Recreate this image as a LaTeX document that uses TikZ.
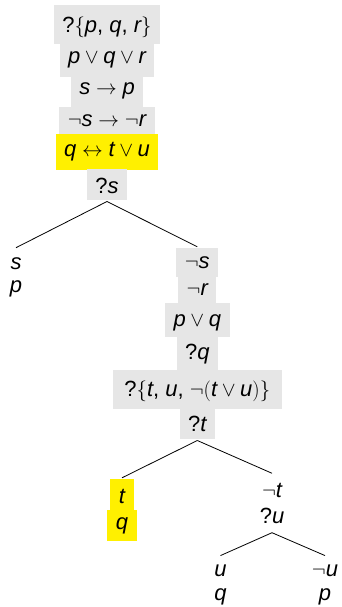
\documentclass[tikz,border=0pt]{standalone}
\usepackage{fontspec}
\setmainfont{Liberation Sans}
\definecolor{boxgray}{RGB}{230,230,230}
\definecolor{hilite}{RGB}{255,240,0}
% propositional letters in sans italic, question mark upright
\newcommand\iv[1]{\textit{#1}}
\newcommand\qm{\textup{?}}
\newcommand\sep{\mbox{, }}
\begin{document}
\begin{tikzpicture}[x=1pt,y=-1pt,
  formula/.style={inner xsep=8.5pt,inner ysep=8.5pt,outer sep=1pt,anchor=base,
    font=\fontsize{22}{26}\selectfont},
  % shaded boxes: extent above and below the baseline given explicitly
  % (a box with another one stacked below it reaches 1pt under that one)
  vspan/.style 2 args={inner ysep=0pt,outer sep=1.5pt,text height=#1pt,text depth=#2pt},
  gbox/.style 2 args={formula,fill=boxgray,vspan={#1}{#2}},
  ybox/.style 2 args={formula,fill=hilite,vspan={#1}{#2}},
  leaf/.style={formula},
  branch/.style={line width=0.8pt,black}]
\useasboundingbox (0,0) rectangle (342,607);

% premises and the initial question
\node[gbox={27.5}{11.5}] (t1) at (107,32.5) {$\qm\{\iv{p}\sep\iv{q}\sep\iv{r}\}$};
\node[gbox={20.3}{13.7}] (t2) at (107,63.3) {$\iv{p}\vee\iv{q}\vee\iv{r}$};
\node[gbox={19}{13}] (t3) at (107,95) {$\iv{s}\to\iv{p}$};
\node[gbox={19}{9}] (t4) at (107,126) {$\neg\iv{s}\to\neg\iv{r}$};
\node[ybox={22.7}{13.3}] (t5) at (107,156.7) {$\iv{q}\leftrightarrow\iv{t}\vee\iv{u}$};
\node[gbox={24}{7}] (t6) at (107,193) {$\qm\iv{s}$};

% branch s
\node[leaf] (l1) at (16,269) {$\iv{s}$};
\node[leaf] (l2) at (16,292) {$\iv{p}$};

% branch not s
\node[gbox={20}{8.4}] (r1) at (197.3,268.3) {$\neg\iv{s}$};
\node[gbox={19.3}{9.3}] (r2) at (197.3,295) {$\neg\iv{r}$};
\node[gbox={22.7}{10.7}] (r3) at (197.3,326) {$\iv{p}\vee\iv{q}$};
\node[gbox={23.6}{11.7}] (r4) at (197.3,359.3) {$\qm\iv{q}$};
\node[gbox={26.7}{12},minimum width=169pt] (r5) at (197.3,396.7) {$\qm\{\iv{t}\sep\iv{u}\sep\neg(\iv{t}\vee\iv{u})\}$};
\node[gbox={24}{7.3}] (r6) at (197.3,431.7) {$\qm\iv{t}$};

% branch t
\node[ybox={24}{7.7}] (a1) at (122,503.3) {$\iv{t}$};
\node[ybox={19.3}{11.7}] (a2) at (122,529.3) {$\iv{q}$};

% branch not t
\node[leaf] (b1) at (272,497) {$\neg\iv{t}$};
\node[leaf] (b2) at (272,523) {$\qm\iv{u}$};

% branches u and not u
\node[leaf] (c1) at (220.5,576.7) {$\iv{u}$};
\node[leaf] (c2) at (220.5,600) {$\iv{q}$};
\node[leaf] (d1) at (325,576.7) {$\neg\iv{u}$};
\node[leaf] (d2) at (325,600) {$\iv{p}$};

% splits
\draw[branch] (t6.south) -- (l1.north);
\draw[branch] (t6.south) -- (r1.north);
\draw[branch] (r6.south) -- (a1.north);
\draw[branch] (r6.south) -- (b1.north);
\draw[branch] (b2.south) -- (c1.north);
\draw[branch] (b2.south) -- (d1.north);
\end{tikzpicture}
\end{document}
